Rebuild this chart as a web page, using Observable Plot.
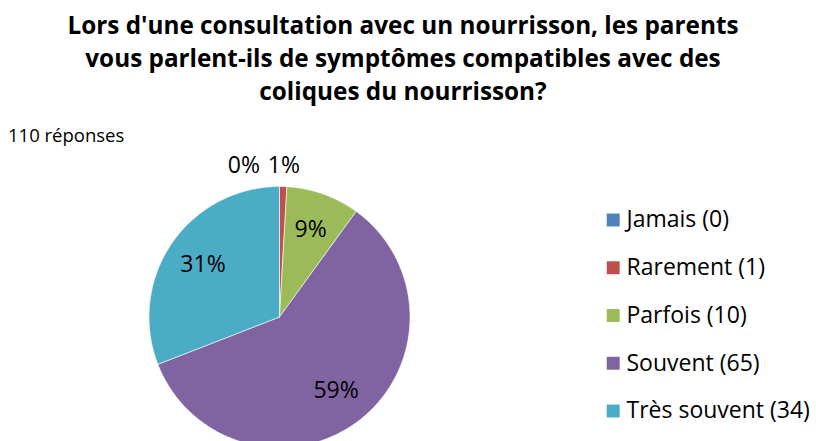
<!DOCTYPE html>
<html>
<head>
<meta charset="utf-8">
<script src="https://cdn.jsdelivr.net/npm/d3@7"></script>
<script src="https://cdn.jsdelivr.net/npm/@observablehq/plot@0.6"></script>
<style>
  html, body { margin: 0; padding: 0; background: #fff; }
  #wrap { position: relative; width: 816px; height: 441px; overflow: hidden; font-family: "Open Sans", sans-serif; }
  #title { position: absolute; left: 0; top: 8px; width: 806px; text-align: center; font-weight: bold; font-size: 24.3px; line-height: 33px; color: #000; z-index: 2; }
  #sub { position: absolute; left: 8px; top: 124px; font-size: 18.5px; line-height: 22px; color: #000; z-index: 2; }
  #chart { position: absolute; left: 0; top: 118px; z-index: 1; }
</style>
</head>
<body>
<div id="wrap">
  <div id="chart"></div>
  <div id="title">Lors d'une consultation avec un nourrisson, les parents<br>vous parlent-ils de symptômes compatibles avec des<br>coliques du nourrisson?</div>
  <div id="sub">110 réponses</div>
</div>
<script>
const categories = ["Jamais", "Rarement", "Parfois", "Souvent", "Très souvent"];
const counts = [0, 1, 10, 65, 34];
const colors = ["#4F81BD", "#C0504D", "#9BBB59", "#8064A2", "#4BACC6"];
const legendLabels = categories.map((c, i) => `${c} (${counts[i]})`);

const W = 816, H = 323;
const cx = 279, cy = 198.5, R = 130.5;
const total = d3.sum(counts);

const arcs = d3.pie().sort(null).value(d => d.count).startAngle(0).endAngle(2 * Math.PI)(
  categories.map((c, i) => ({category: c, count: counts[i]}))
);

// polygon points for each non-empty slice
const slicePts = [];
for (const a of arcs) {
  if (a.endAngle - a.startAngle <= 0) continue;
  const cat = a.data.category;
  slicePts.push({category: cat, x: cx, y: cy});
  const n = Math.max(2, Math.ceil((a.endAngle - a.startAngle) / (Math.PI / 360)));
  for (let k = 0; k <= n; k++) {
    const t = a.startAngle + (a.endAngle - a.startAngle) * k / n;
    slicePts.push({category: cat, x: cx + R * Math.sin(t), y: cy - R * Math.cos(t)});
  }
  slicePts.push({category: cat, x: cx, y: cy});
}

// labels
const labels = arcs.map(a => {
  const frac = a.data.count / total;
  const mid = (a.startAngle + a.endAngle) / 2;
  const outside = frac < 0.03;
  const d = outside ? R + 21 : R * 0.71;
  return {text: Math.round(frac * 100) + "%", x: cx + d * Math.sin(mid), y: cy - d * Math.cos(mid), outside};
});
// simple collision avoidance for outside labels: push earlier ones left
const outs = labels.filter(l => l.outside);
for (let i = outs.length - 2; i >= 0; i--) {
  if (outs[i + 1].x - outs[i].x < 40) outs[i].x = outs[i + 1].x - 40;
}

const legend = categories.map((c, i) => ({category: c, label: legendLabels[i], y: 101.5 + i * 47.75}));

const font = "'Open Sans', sans-serif";
const plot = Plot.plot({
  width: W, height: H,
  margin: 0,
  x: {type: "identity", axis: null},
  y: {type: "identity", axis: null},
  color: {domain: categories, range: colors},
  style: {fontFamily: font, background: "transparent"},
  marks: [
    Plot.line(slicePts, {x: "x", y: "y", z: "category", fill: "category", stroke: "white", strokeWidth: 0.6, curve: "linear"}),
    Plot.text(labels, {x: "x", y: "y", text: "text", fontSize: 23, fill: "black"}),
    Plot.dot(legend, {x: 612.7, y: "y", symbol: "square", r: 7.3, fill: "category", stroke: null}),
    Plot.text(legend, {x: 626, y: "y", text: "label", textAnchor: "start", fontSize: 23, fill: "black"})
  ]
});
document.getElementById("chart").appendChild(plot);
</script>
</body>
</html>
